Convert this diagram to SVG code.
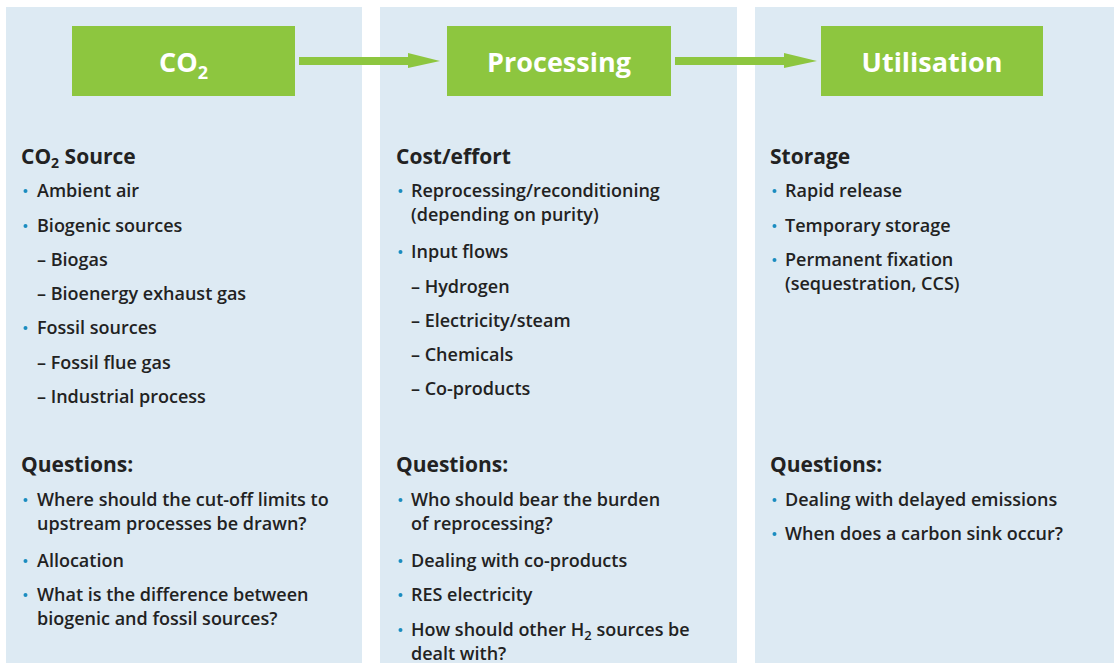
<svg xmlns="http://www.w3.org/2000/svg" width="1114" height="663" viewBox="0 0 1114 663">
<style>
.panel{fill:#ddeaf3}
.box{fill:#8dc63f}
.bt{font-family:"Open Sans","Noto Sans",sans-serif;font-weight:700;font-size:27px;fill:#fff;text-anchor:middle}
.h{font-family:"Open Sans","Noto Sans",sans-serif;font-weight:700;font-size:21px;fill:#222}
.t{font-family:"Open Sans","Noto Sans",sans-serif;font-weight:600;font-size:18px;fill:#222}
.dot{fill:#1a8cc0}
.arr{fill:#8dc63f}
</style>
<rect width="1114" height="663" fill="#fff"/>
<g id="panel-co2">
<rect class="panel" x="6" y="7" width="356" height="656"/>
<rect class="box" x="72" y="26" width="223" height="70"/>
<text class="bt" x="183.5" y="72">CO<tspan font-size="18" dy="7">2</tspan></text>
<text class="h" x="21" y="164">CO<tspan font-size="14" dy="4">2</tspan><tspan dy="-4"> Source</tspan></text>
<circle class="dot" cx="25.5" cy="191" r="2"/><text class="t" x="37" y="197">Ambient air</text>
<circle class="dot" cx="25.5" cy="226" r="2"/><text class="t" x="37" y="232">Biogenic sources</text>
<text class="t" x="37" y="266">– Biogas</text>
<text class="t" x="37" y="300">– Bioenergy exhaust gas</text>
<circle class="dot" cx="25.5" cy="328" r="2"/><text class="t" x="37" y="334">Fossil sources</text>
<text class="t" x="37" y="369">– Fossil flue gas</text>
<text class="t" x="37" y="403">– Industrial process</text>
<text class="h" x="21" y="472">Questions:</text>
<circle class="dot" cx="25.5" cy="500" r="2"/><text class="t" x="37" y="506">Where should the cut-off limits to</text>
<text class="t" x="37" y="530">upstream processes be drawn?</text>
<circle class="dot" cx="25.5" cy="561" r="2"/><text class="t" x="37" y="567">Allocation</text>
<circle class="dot" cx="25.5" cy="595" r="2"/><text class="t" x="37" y="601">What is the difference between</text>
<text class="t" x="37" y="625">biogenic and fossil sources?</text>
</g>
<g id="panel-processing">
<rect class="panel" x="380" y="7" width="357" height="656"/>
<rect class="box" x="447" y="26" width="224" height="70"/>
<text class="bt" x="559" y="72">Processing</text>
<text class="h" x="396" y="164">Cost/effort</text>
<circle class="dot" cx="400.5" cy="191" r="2"/><text class="t" x="411" y="197">Reprocessing/reconditioning</text>
<text class="t" x="411" y="221">(depending on purity)</text>
<circle class="dot" cx="400.5" cy="252" r="2"/><text class="t" x="411" y="258">Input flows</text>
<text class="t" x="411" y="293">– Hydrogen</text>
<text class="t" x="411" y="327">– Electricity/steam</text>
<text class="t" x="411" y="361">– Chemicals</text>
<text class="t" x="411" y="395">– Co-products</text>
<text class="h" x="396" y="472">Questions:</text>
<circle class="dot" cx="400.5" cy="500" r="2"/><text class="t" x="411" y="506">Who should bear the burden</text>
<text class="t" x="411" y="530">of reprocessing?</text>
<circle class="dot" cx="400.5" cy="561" r="2"/><text class="t" x="411" y="567">Dealing with co-products</text>
<circle class="dot" cx="400.5" cy="595" r="2"/><text class="t" x="411" y="601">RES electricity</text>
<circle class="dot" cx="400.5" cy="630" r="2"/><text class="t" x="411" y="636">How should other H<tspan font-size="13" dy="4">2</tspan><tspan dy="-4"> sources be</tspan></text>
<text class="t" x="411" y="660">dealt with?</text>
</g>
<g id="panel-utilisation">
<rect class="panel" x="755" y="7" width="359" height="656"/>
<rect class="box" x="821" y="26" width="222" height="70"/>
<text class="bt" x="932" y="72">Utilisation</text>
<text class="h" x="770" y="164">Storage</text>
<circle class="dot" cx="774.5" cy="191" r="2"/><text class="t" x="785" y="197">Rapid release</text>
<circle class="dot" cx="774.5" cy="226" r="2"/><text class="t" x="785" y="232">Temporary storage</text>
<circle class="dot" cx="774.5" cy="260" r="2"/><text class="t" x="785" y="266">Permanent fixation</text>
<text class="t" x="785" y="290">(sequestration, CCS)</text>
<text class="h" x="770" y="472">Questions:</text>
<circle class="dot" cx="774.5" cy="500" r="2"/><text class="t" x="785" y="506">Dealing with delayed emissions</text>
<circle class="dot" cx="774.5" cy="534" r="2"/><text class="t" x="785" y="540">When does a carbon sink occur?</text>
</g>
<g id="connectors">
<polygon class="arr" points="299,57 408,57 408,53 440,61 408,68 408,65 299,65"/>
<polygon class="arr" points="675,57 784,57 784,53 817,61 784,68 784,65 675,65"/>
</g>
</svg>
